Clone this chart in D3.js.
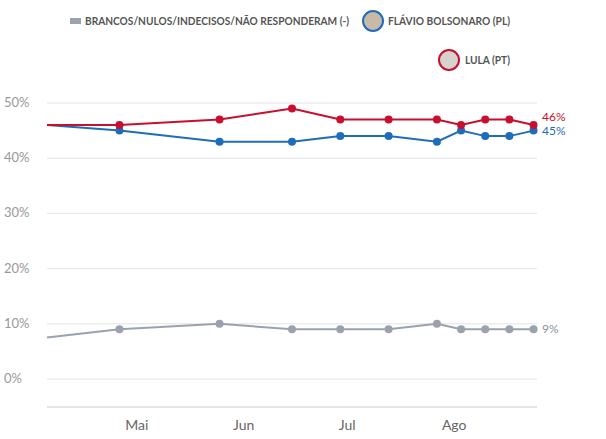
<!DOCTYPE html>
<html><head><meta charset="utf-8">
<script src="https://cdn.jsdelivr.net/npm/d3@7"></script>
<style>body{margin:0;background:#fff;font-family:Lato,sans-serif}</style>
</head><body>
<script>
const dates = ['2026-04-05','2026-04-26','2026-05-25','2026-06-15','2026-06-29','2026-07-13','2026-07-27','2026-08-03','2026-08-10','2026-08-17','2026-08-24'];
const lula = [46, 46, 47, 49, 47, 47, 47, 46, 47, 47, 46];
const flavio = [46, 45, 43, 43, 44, 44, 43, 45, 44, 44, 45];
const brancos = [7.5, 9, 10, 9, 9, 9, 10, 9, 9, 9, 9];
const yTicks = [0, 10, 20, 30, 40, 50];
const monthTicks = ['2026-05-01','2026-06-01','2026-07-01','2026-08-01'];
const monthNames = ['Mai','Jun','Jul','Ago'];

const width = 606, height = 439;
const parse = d3.utcParse('%Y-%m-%d');
const svg = d3.select('body').append('svg').attr('width', width).attr('height', height);

const x = d3.scaleUtc().domain([parse('2026-04-05'), parse('2026-08-25')]).range([47, 537]);
const y = d3.scaleLinear().domain([0, 50]).range([379, 103]);

const grid = svg.append('g');
yTicks.forEach(t => {
    grid.append('line').attr('x1', 47).attr('x2', 537).attr('y1', y(t)).attr('y2', y(t))
        .attr('stroke', '#e3e3e3');
    grid.append('text').attr('x', 4).attr('y', y(t) + 4).text(t + '%')
        .attr('fill', '#999').style('font-size', '13px');
});
svg.append('line').attr('x1', 47).attr('x2', 537).attr('y1', 407).attr('y2', 407).attr('stroke', '#ccc');
monthTicks.forEach((m, i) => {
    svg.append('text').attr('x', x(parse(m))).attr('y', 430).attr('text-anchor', 'middle')
        .text(monthNames[i]).attr('fill', '#666').style('font-size', '14px');
});

const series = [
    {vals: brancos, color: '#9aa3ad'},
    {vals: flavio, color: '#1f6cb8'},
    {vals: lula, color: '#c8102e'}
];
const line = d3.line().x(d => x(d.date)).y(d => y(d.v));
series.forEach(s => {
    const pts = dates.map((d, i) => ({date: parse(d), v: s.vals[i]}));
    svg.append('path').attr('d', line(pts)).attr('fill', 'none').attr('stroke', s.color).attr('stroke-width', 2);
    svg.selectAll(null).data(pts.slice(1)).join('circle')
        .attr('cx', d => x(d.date)).attr('cy', d => y(d.v)).attr('r', 4).attr('fill', s.color);
});
const last = dates.length - 1;
svg.append('text').attr('x', 542).attr('y', y(lula[last]) - 4).text('46%').attr('fill', '#c8102e').style('font-size', '12px');
svg.append('text').attr('x', 542).attr('y', y(flavio[last]) + 4).text('45%').attr('fill', '#1f6cb8').style('font-size', '12px');
svg.append('text').attr('x', 542).attr('y', y(brancos[last]) + 4).text('9%').attr('fill', '#8a939c').style('font-size', '12px');

// legend
const lg = svg.append('g').style('font-size', '11px').style('font-weight', 'bold').attr('fill', '#555');
lg.append('rect').attr('x', 70).attr('y', 18).attr('width', 11).attr('height', 6).attr('fill', '#9aa3ad');
lg.append('text').attr('x', 85).attr('y', 25).text('BRANCOS/NULOS/INDECISOS/NÃO RESPONDERAM (-)')
    .attr('textLength', 264).attr('lengthAdjust', 'spacingAndGlyphs');
lg.append('circle').attr('cx', 373).attr('cy', 21).attr('r', 10).attr('fill', '#c9b9a8').attr('stroke', '#1f6cb8').attr('stroke-width', 2);
lg.append('text').attr('x', 388).attr('y', 25).text('FLÁVIO BOLSONARO (PL)')
    .attr('textLength', 122).attr('lengthAdjust', 'spacingAndGlyphs');
lg.append('circle').attr('cx', 449).attr('cy', 60).attr('r', 10).attr('fill', '#d8d2cc').attr('stroke', '#c8102e').attr('stroke-width', 2);
lg.append('text').attr('x', 465).attr('y', 64).text('LULA (PT)')
    .attr('textLength', 45).attr('lengthAdjust', 'spacingAndGlyphs');
</script>
</body></html>
